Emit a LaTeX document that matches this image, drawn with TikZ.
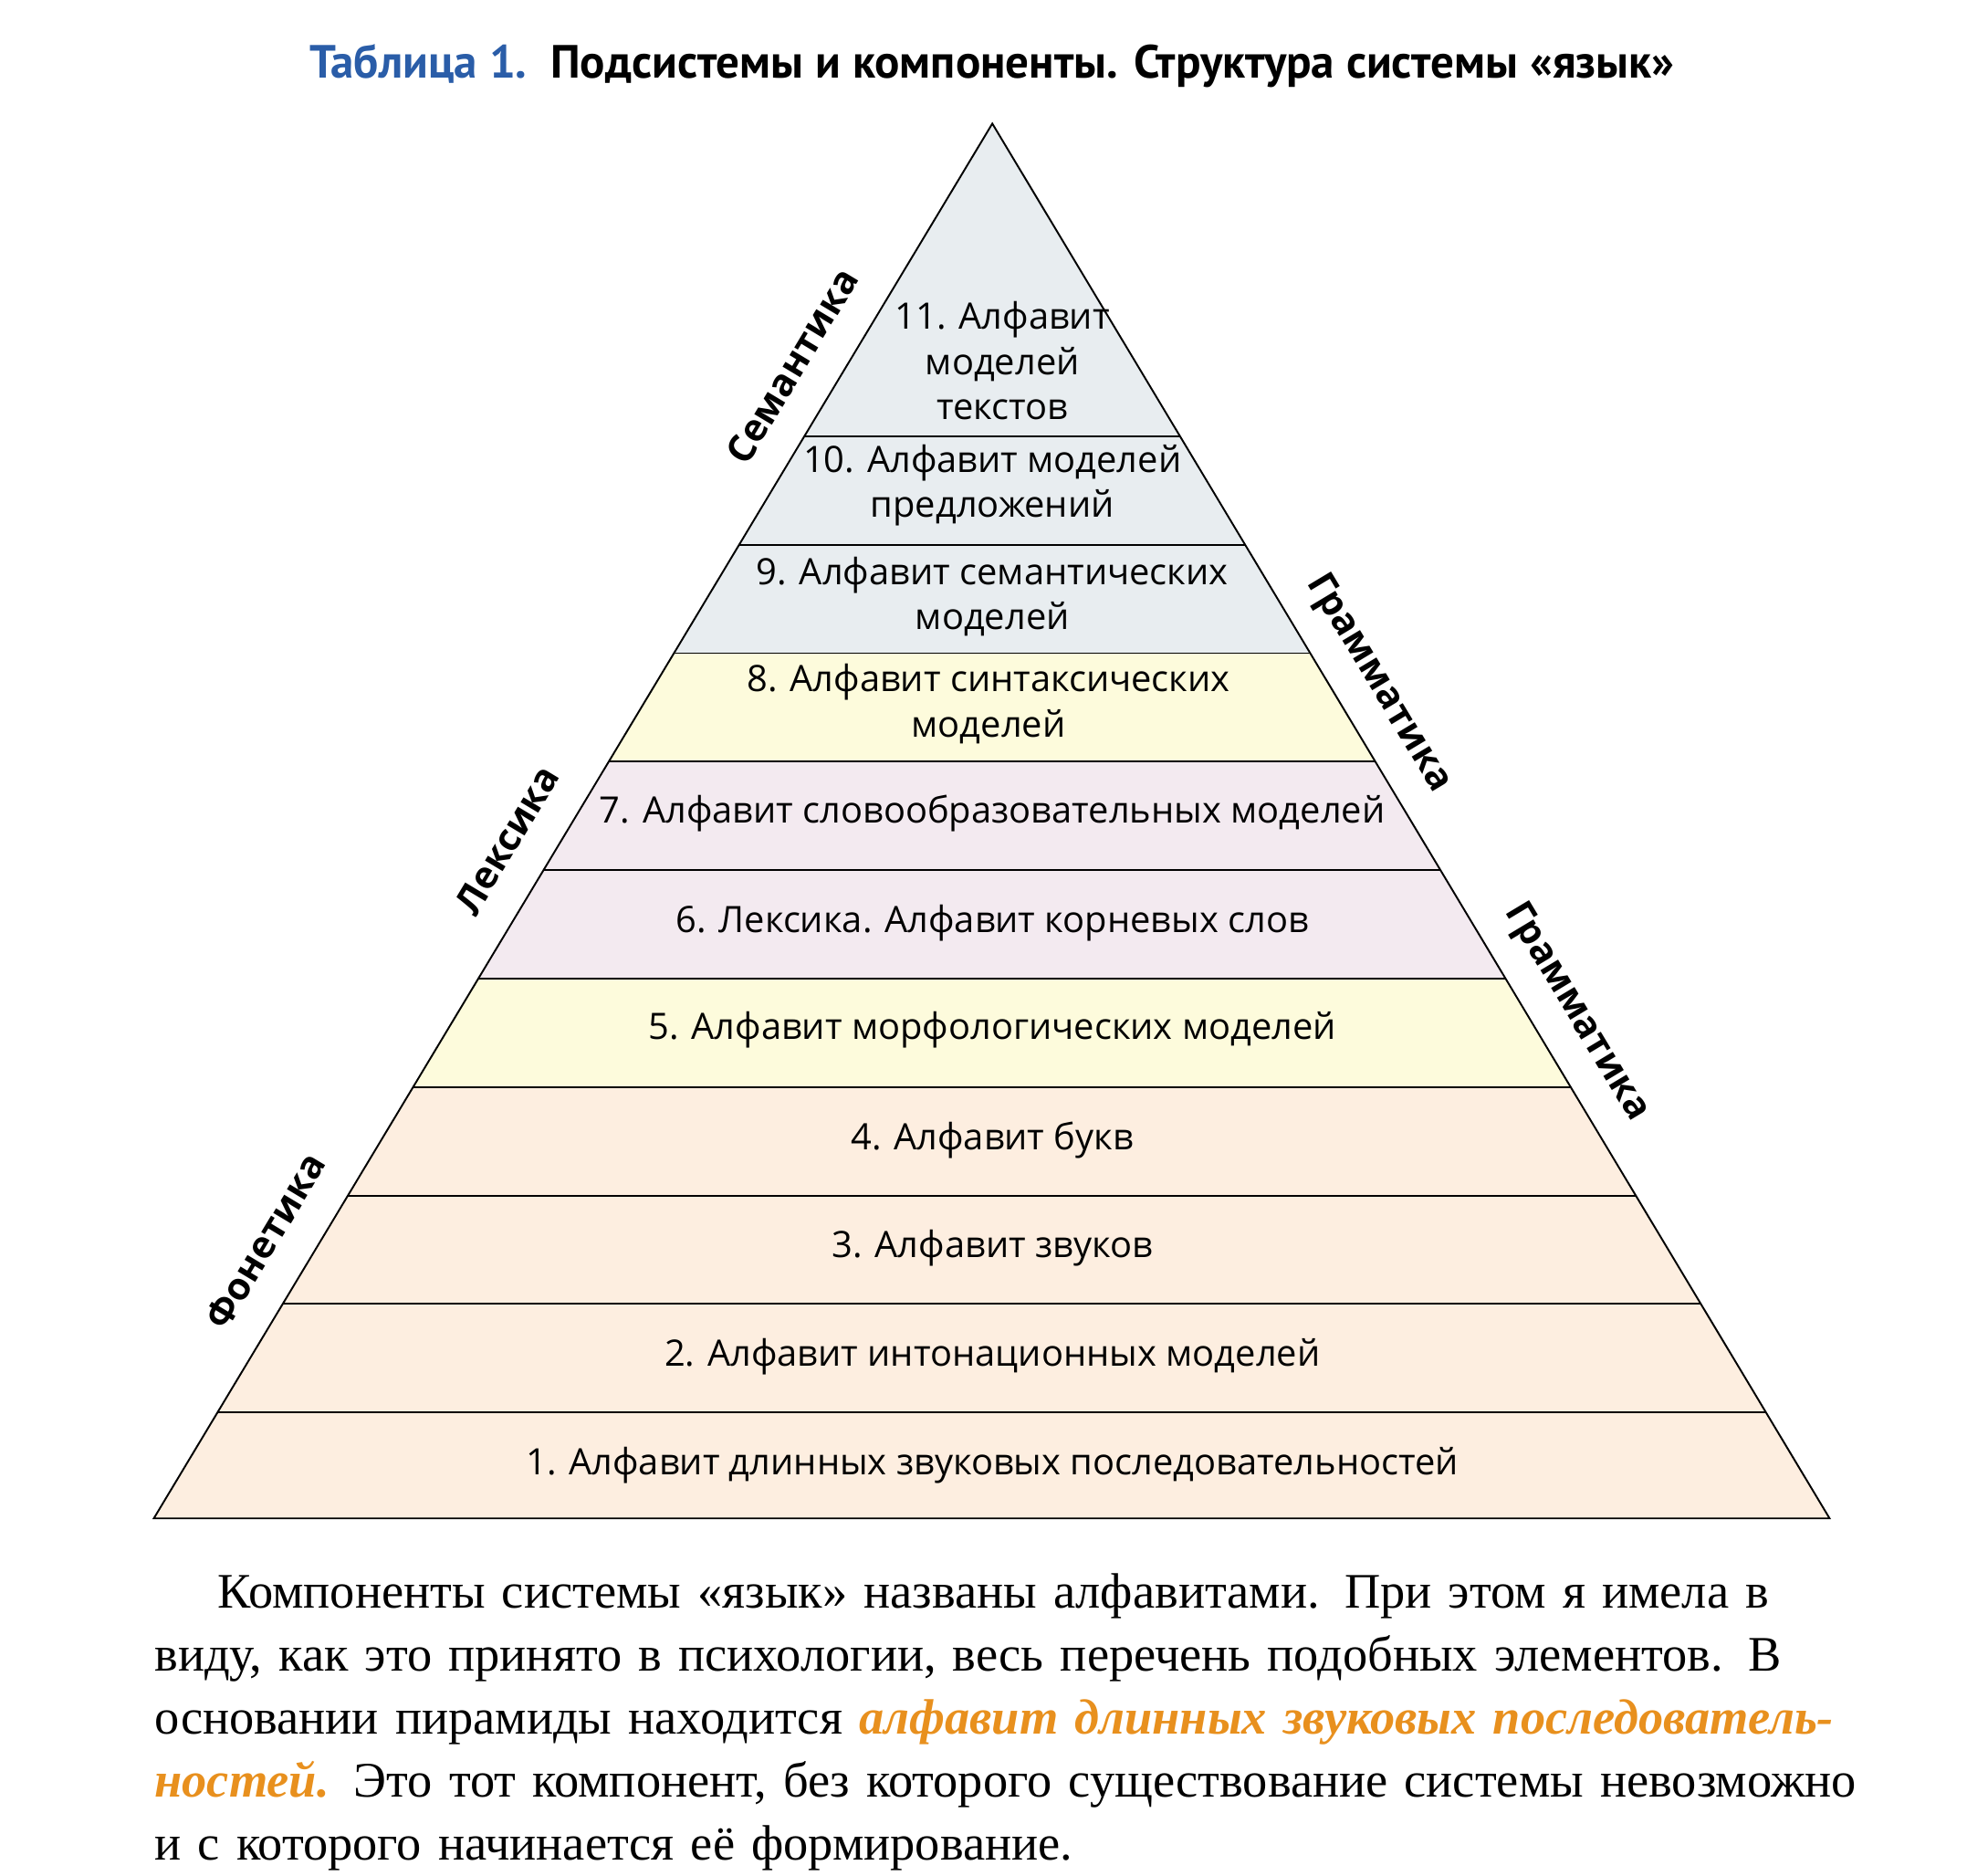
\documentclass[tikz,border=0pt]{standalone}
\usepackage{fontspec}
\setmainfont{Liberation Serif}
\newfontfamily\labelfont{Open Sans}
\newfontfamily\titlefont{PT Sans}
\usepackage{tikz}
\usetikzlibrary{calc}
\definecolor{semblue}{HTML}{E8EDF0}
\definecolor{morphyel}{HTML}{FDFBDC}
\definecolor{lexlil}{HTML}{F3EAF0}
\definecolor{phonpeach}{HTML}{FDEEE0}
\definecolor{titleblue}{HTML}{2A5DA8}
\definecolor{accorange}{HTML}{E8901E}
\newcommand{\paraline}[1]{\makebox[13.29cm][s]{#1}\\}
\tikzset{
    bandtext/.style = {align=center, inner sep=0pt, font=\labelfont\fontsize{8.2}{10.2}\selectfont},
    sidetext/.style = {inner sep=0pt, font=\labelfont\bfseries\fontsize{8.5}{10}\selectfont}
}
\begin{document}
\begin{tikzpicture}[x=0.01cm, y=-0.01cm]
    \useasboundingbox (0,0) rectangle (1560,1487);
    \coordinate (apex) at (787,98);
    \coordinate (bl) at (122,1204);
    \coordinate (br) at (1451,1204);
    % bands, from top to bottom
    \fill[semblue] (apex) -- ($(apex)!0.2242!(bl)$) -- ($(apex)!0.2242!(br)$) -- cycle;
    \foreach \ta/\tb/\col in {0.2242/0.302/semblue, 0.302/0.3797/semblue, 0.3797/0.4575/morphyel,
        0.4575/0.5353/lexlil, 0.5353/0.613/lexlil, 0.613/0.6908/morphyel, 0.6908/0.7685/phonpeach,
        0.7685/0.8463/phonpeach, 0.8463/0.924/phonpeach, 0.924/1/phonpeach}{
        \fill[\col] ($(apex)!\ta!(bl)$) -- ($(apex)!\tb!(bl)$) -- ($(apex)!\tb!(br)$) -- ($(apex)!\ta!(br)$) -- cycle;
        \draw[thin] ($(apex)!\ta!(bl)$) -- ($(apex)!\ta!(br)$);
    }
    \draw[thin] (apex) -- (bl) -- (br) -- cycle;
    % band labels
    \node[bandtext] (b11) at (795,286) {11. Алфавит\\моделей\\текстов};
    \node[bandtext] (b10) at (787,385) {10. Алфавит моделей\\предложений};
    \node[bandtext] (b9) at (787,473) {9. Алфавит семантических\\моделей};
    \node[bandtext] (b8) at (784,558) {8. Алфавит синтаксических\\моделей};
    \node[bandtext] (b7) at (787,645) {7. Алфавит словообразовательных моделей};
    \node[bandtext] (b6) at (787,732) {6. Лексика. Алфавит корневых слов};
    \node[bandtext] (b5) at (787,817) {5. Алфавит морфологических моделей};
    \node[bandtext] (b4) at (787,904) {4. Алфавит букв};
    \node[bandtext] (b3) at (787,990) {3. Алфавит звуков};
    \node[bandtext] (b2) at (787,1076) {2. Алфавит интонационных моделей};
    \node[bandtext] (b1) at (787,1162) {1. Алфавит длинных звуковых последовательностей};
    % subsystem names along the sides
    \node[sidetext, rotate=59] (sem) at (628,290) {Семантика};
    \node[sidetext, rotate=59] (lex) at (402,666) {Лексика};
    \node[sidetext, rotate=59] (phon) at (210,984) {Фонетика};
    \node[sidetext, rotate=-59] (gram1) at (1093,542) {Грамматика};
    \node[sidetext, rotate=-59] (gram2) at (1250,803) {Грамматика};
    % title
    \node[inner sep=0pt, font=\titlefont\bfseries\fontsize{10.5}{13}\selectfont] (title) at (787,52)
        {\textcolor{titleblue}{Таблица 1.}\ \ Подсистемы и компоненты. Структура системы «язык»};
    % paragraph
    \node[anchor=north west, inner sep=0pt, text width=13.29cm, align=left,
        font=\fontsize{11.2}{14.2}\selectfont] (para) at (122,1247)
        {\paraline{\hspace*{0.5cm}Компоненты системы «язык» названы алфавитами. При этом я имела в}
        \paraline{виду, как это принято в психологии, весь перечень подобных элементов. В}
        \paraline{основании пирамиды находится \textcolor{accorange}{\textbf{\textit{алфавит длинных звуковых последователь-}}}}
        \paraline{\textcolor{accorange}{\textbf{\textit{ностей.}}} Это тот компонент, без которого существование системы невозможно}
        и с которого начинается её формирование.};
\end{tikzpicture}
\end{document}
